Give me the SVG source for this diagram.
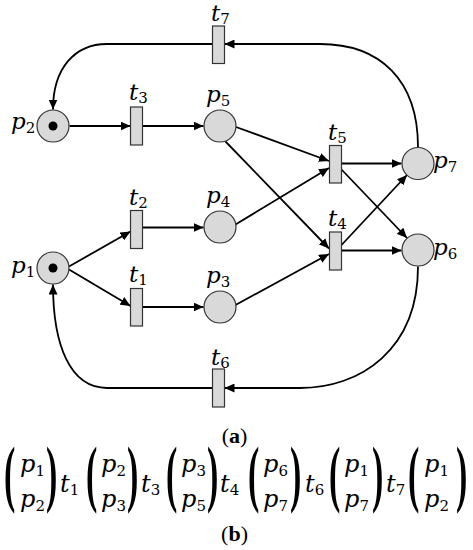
<svg xmlns="http://www.w3.org/2000/svg" width="473" height="550" viewBox="0 0 473 550">
<style>
.pl{fill:#d9d9d9;stroke:#333;stroke-width:1.2}
.tr{fill:#d9d9d9;stroke:#333;stroke-width:1.2}
.tok{fill:#000}
.lb{font-family:"DejaVu Serif",serif;font-style:italic;font-size:23px;fill:#000}
.ml{font-family:"DejaVu Serif",serif;font-style:italic;font-size:24px;fill:#000}
.sb{font-family:"DejaVu Serif",serif;font-style:normal;font-size:15px}
.cap{font-family:"Liberation Serif",serif;font-size:22px;fill:#000}
.par{font-family:"Liberation Serif",serif;font-weight:bold;font-size:34px;fill:#000}
.arc{fill:none;stroke:#000;stroke-width:1.8;marker-end:url(#ah)}
</style>
<defs>
<marker id="ah" markerWidth="10" markerHeight="9" refX="10" refY="4.5" orient="auto" markerUnits="userSpaceOnUse">
<path d="M0,0 L10,4.5 L0,9 z" fill="#000"/>
</marker>
</defs>
<g id="connectors">
<path class="arc" d="M69.5 126 L130.5 126"/>
<path class="arc" d="M142.5 126 L203.5 126"/>
<path class="arc" d="M69 266.5 L130.5 231.5"/>
<path class="arc" d="M69 269.5 L130.5 306"/>
<path class="arc" d="M142.5 227.5 L203.5 227.5"/>
<path class="arc" d="M142.5 307 L203.5 307"/>
<path class="arc" d="M236 127 L329 161"/>
<path class="arc" d="M225.5 141.5 L329 248.5"/>
<path class="arc" d="M235.5 224.5 L329 168"/>
<path class="arc" d="M235.5 305 L329 254"/>
<path class="arc" d="M341.5 163.5 L401.5 163.5"/>
<path class="arc" d="M341.5 169.5 L407 238"/>
<path class="arc" d="M341.5 245 L407 175"/>
<path class="arc" d="M341.5 250.5 L401.5 250.5"/>
<path class="arc" d="M212.5 44 L107 44 C75 44 53 68 53 109.5"/>
<path class="arc" d="M418 147 C418 80 380 44 320 44 L224.5 44"/>
<path class="arc" d="M418 266.5 C418 350 360 388 300 388 L224.5 388"/>
<path class="arc" d="M212.5 388 L107 388 C70 388 53 345 53 284.5"/>
</g>
<g id="p1"><circle class="pl" cx="53" cy="268" r="16"/><circle class="tok" cx="53" cy="268" r="4.5"/><text class="lb" x="11" y="273">p<tspan class="sb" dy="4">1</tspan></text></g>
<g id="p2"><circle class="pl" cx="53" cy="126" r="16"/><circle class="tok" cx="53" cy="126" r="4.5"/><text class="lb" x="11" y="129">p<tspan class="sb" dy="4">2</tspan></text></g>
<g id="p3"><circle class="pl" cx="220" cy="307" r="16"/><text class="lb" x="206" y="283">p<tspan class="sb" dy="4">3</tspan></text></g>
<g id="p4"><circle class="pl" cx="220" cy="227" r="16"/><text class="lb" x="206" y="203">p<tspan class="sb" dy="4">4</tspan></text></g>
<g id="p5"><circle class="pl" cx="220" cy="126" r="16"/><text class="lb" x="206" y="102">p<tspan class="sb" dy="4">5</tspan></text></g>
<g id="p6"><circle class="pl" cx="418" cy="250" r="16"/><text class="lb" x="433" y="255">p<tspan class="sb" dy="4">6</tspan></text></g>
<g id="p7"><circle class="pl" cx="418" cy="163.5" r="16"/><text class="lb" x="433" y="168">p<tspan class="sb" dy="4">7</tspan></text></g>
<g id="t1"><rect class="tr" x="130.5" y="288.5" width="12" height="37.5"/><text class="lb" x="129" y="282">t<tspan class="sb" dy="3">1</tspan></text></g>
<g id="t2"><rect class="tr" x="130.5" y="210.5" width="12" height="38"/><text class="lb" x="129" y="205">t<tspan class="sb" dy="3">2</tspan></text></g>
<g id="t3"><rect class="tr" x="130.5" y="107" width="12" height="38"/><text class="lb" x="129" y="100">t<tspan class="sb" dy="3">3</tspan></text></g>
<g id="t4"><rect class="tr" x="329.5" y="232" width="12" height="38"/><text class="lb" x="328" y="226">t<tspan class="sb" dy="3">4</tspan></text></g>
<g id="t5"><rect class="tr" x="329.5" y="145.5" width="12" height="37.5"/><text class="lb" x="328" y="140">t<tspan class="sb" dy="3">5</tspan></text></g>
<g id="t6"><rect class="tr" x="212.5" y="369" width="12" height="38"/><text class="lb" x="211" y="365">t<tspan class="sb" dy="3">6</tspan></text></g>
<g id="t7"><rect class="tr" x="212.5" y="26" width="12" height="37.5"/><text class="lb" x="211" y="21">t<tspan class="sb" dy="3">7</tspan></text></g>
<g id="caption-a"><text class="cap" x="234.5" y="443" text-anchor="middle">(<tspan font-weight="bold">a</tspan>)</text></g>
<g id="sequence">
<text class="par" transform="translate(4,497.5) scale(1,2.15)">(</text>
<text class="ml" x="20" y="472">p<tspan class="sb" dy="4">1</tspan></text>
<text class="ml" x="20" y="507">p<tspan class="sb" dy="4">2</tspan></text>
<text class="par" transform="translate(46,497.5) scale(1,2.15)">)</text>
<text class="ml" x="60" y="492">t<tspan class="sb" dy="3">1</tspan></text>
<text class="par" transform="translate(86,497.5) scale(1,2.15)">(</text>
<text class="ml" x="101" y="472">p<tspan class="sb" dy="4">2</tspan></text>
<text class="ml" x="101" y="507">p<tspan class="sb" dy="4">3</tspan></text>
<text class="par" transform="translate(127,497.5) scale(1,2.15)">)</text>
<text class="ml" x="141" y="492">t<tspan class="sb" dy="3">3</tspan></text>
<text class="par" transform="translate(166,497.5) scale(1,2.15)">(</text>
<text class="ml" x="181" y="472">p<tspan class="sb" dy="4">3</tspan></text>
<text class="ml" x="181" y="507">p<tspan class="sb" dy="4">5</tspan></text>
<text class="par" transform="translate(207,497.5) scale(1,2.15)">)</text>
<text class="ml" x="220" y="492">t<tspan class="sb" dy="3">4</tspan></text>
<text class="par" transform="translate(248,497.5) scale(1,2.15)">(</text>
<text class="ml" x="263" y="472">p<tspan class="sb" dy="4">6</tspan></text>
<text class="ml" x="263" y="507">p<tspan class="sb" dy="4">7</tspan></text>
<text class="par" transform="translate(290,497.5) scale(1,2.15)">)</text>
<text class="ml" x="305" y="492">t<tspan class="sb" dy="3">6</tspan></text>
<text class="par" transform="translate(329,497.5) scale(1,2.15)">(</text>
<text class="ml" x="344" y="472">p<tspan class="sb" dy="4">1</tspan></text>
<text class="ml" x="344" y="507">p<tspan class="sb" dy="4">7</tspan></text>
<text class="par" transform="translate(372,497.5) scale(1,2.15)">)</text>
<text class="ml" x="386" y="492">t<tspan class="sb" dy="3">7</tspan></text>
<text class="par" transform="translate(408,497.5) scale(1,2.15)">(</text>
<text class="ml" x="424" y="472">p<tspan class="sb" dy="4">1</tspan></text>
<text class="ml" x="424" y="507">p<tspan class="sb" dy="4">2</tspan></text>
<text class="par" transform="translate(456,497.5) scale(1,2.15)">)</text>
</g>
<g id="caption-b"><text class="cap" x="234.5" y="541" text-anchor="middle">(<tspan font-weight="bold">b</tspan>)</text></g>
</svg>
